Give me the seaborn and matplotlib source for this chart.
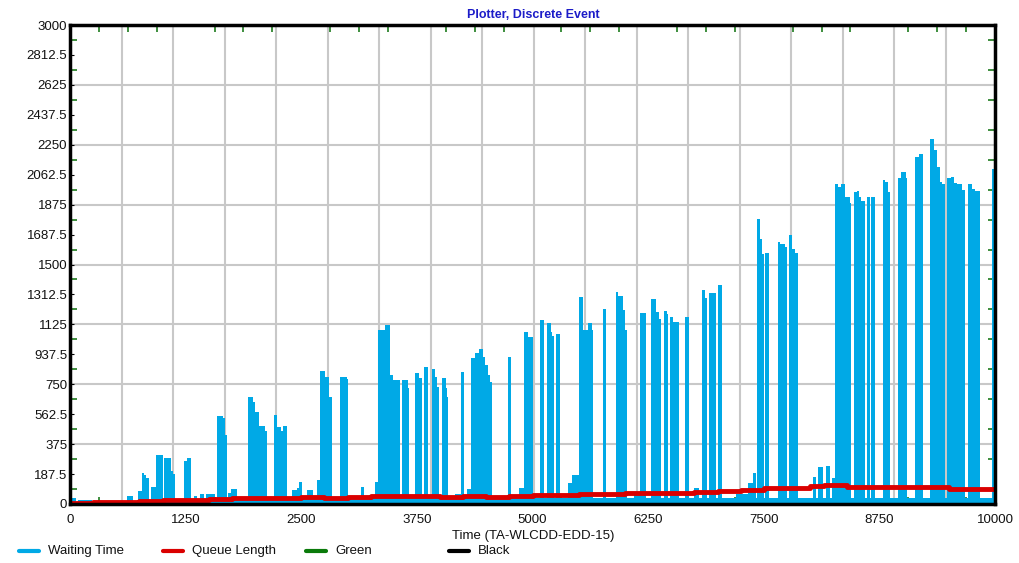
import numpy as np
import matplotlib
matplotlib.use('Agg')
import matplotlib.pyplot as plt
from matplotlib.lines import Line2D
import seaborn as sns
import pandas as pd

sns.set_style('white')
plt.rcParams['font.family'] = ['Liberation Sans', 'DejaVu Sans']

wait_t = [0, 60, 90, 240, 320, 400, 490, 560, 620, 680, 735, 780, 805, 825, 850, 875, 930, 1000,
          1015, 1090, 1110, 1135, 1230, 1260, 1310, 1340, 1370, 1400, 1450, 1470, 1570, 1590, 1650,
          1680, 1700, 1710, 1740, 1800, 1925, 1980, 2000, 2040, 2110, 2135, 2200, 2240, 2280, 2300,
          2350, 2400, 2450, 2480, 2510, 2560, 2630, 2670, 2700, 2760, 2800, 2830, 2920, 2990, 3010,
          3100, 3150, 3180, 3300, 3330, 3400, 3455, 3490, 3565, 3590, 3650, 3665, 3730, 3770, 3800,
          3830, 3875, 3910, 3945, 3965, 3985, 4020, 4060, 4075, 4090, 4160, 4230, 4255, 4290, 4335,
          4380, 4420, 4460, 4490, 4520, 4545, 4565, 4620, 4740, 4770, 4850, 4910, 4950, 5010, 5080,
          5120, 5160, 5200, 5215, 5235, 5250, 5300, 5380, 5430, 5500, 5545, 5595, 5640, 5655, 5760,
          5790, 5900, 5925, 5980, 6000, 6020, 6100, 6160, 6230, 6280, 6340, 6365, 6385, 6420, 6450,
          6465, 6490, 6520, 6580, 6650, 6690, 6750, 6800, 6830, 6870, 6885, 6910, 6980, 7000, 7050,
          7200, 7330, 7380, 7420, 7430, 7460, 7480, 7500, 7510, 7560, 7650, 7680, 7730, 7750, 7770,
          7810, 7840, 7870, 8030, 8070, 8090, 8140, 8170, 8215, 8240, 8275, 8300, 8340, 8380, 8430,
          8445, 8475, 8505, 8530, 8555, 8590, 8615, 8650, 8660, 8700, 8785, 8815, 8845, 8870, 8950,
          8985, 9035, 9050, 9140, 9180, 9220, 9300, 9340, 9370, 9400, 9430, 9455, 9480, 9525, 9555,
          9590, 9640, 9680, 9710, 9750, 9780, 9840, 9965, 10000]
wait_v = [40, 10, 25, 15, 15, 5, 15, 5, 50, 20, 80, 195, 180, 160, 20, 107, 307, 30,
          288, 205, 185, 30, 270, 290, 30, 50, 20, 65, 20, 65, 30, 550, 540,
          430, 40, 70, 92, 35, 670, 640, 575, 490, 460, 30, 557, 483, 460, 490,
          35, 90, 100, 140, 40, 87, 40, 150, 833, 797, 672, 40, 797, 780, 40,
          30, 108, 40, 140, 1090, 1121, 808, 777, 40, 777, 724, 40, 818, 787, 40,
          857, 40, 845, 797, 735, 40, 787, 724, 672, 40, 60, 829, 40, 97, 912,
          943, 968, 922, 870, 808, 766, 40, 50, 922, 40, 100, 1077, 1046, 40, 1152,
          40, 1133, 1075, 1050, 40, 1065, 40, 130, 182, 1294, 1090, 1131, 1090, 40, 1221,
          40, 1330, 1300, 1215, 1090, 40, 60, 1195, 40, 1284, 1205, 1156, 40, 1209, 1193,
          40, 1172, 1140, 40, 1172, 40, 100, 40, 1340, 1288, 40, 1324, 40, 1371, 40,
          60, 130, 196, 40, 1783, 1658, 1566, 40, 1570, 40, 1639, 1628, 1607, 40, 1685,
          1600, 1570, 40, 168, 40, 230, 40, 240, 40, 160, 2002, 1983, 2002, 1925, 1888,
          40, 1957, 1963, 1921, 1898, 40, 1925, 40, 1925, 40, 2029, 2017, 1957, 40, 2040,
          2077, 2040, 40, 2171, 2192, 40, 2286, 2217, 2113, 2019, 2002, 40, 2040, 2046, 2008,
          2002, 1967, 40, 2002, 1971, 1963, 40, 2098, 2098]

## Queue length
queue_t = [0, 250, 500, 750, 1000, 1250, 1500, 1750, 2000, 2250, 2500, 2750, 3000, 3250, 3500,
           3750, 4000, 4250, 4500, 4750, 5000, 5250, 5500, 5750, 6000, 6250, 6500, 6750, 7000,
           7250, 7500, 7750, 8000, 8150, 8400, 8750, 9000, 9250, 9500, 9750, 10000]
queue_v = [5, 10, 15, 18, 22, 25, 30, 35, 38, 40, 42, 40, 45, 52, 50, 48, 45, 48, 45, 50,
           55, 57, 60, 65, 68, 70, 72, 78, 82, 90, 98, 100, 112, 122, 108, 104, 106, 108, 95,
           92, 92]

x_labels = ['0', '1250', '2500', '3750', '5000', '6250', '7500', '8750', '10000']
legend_names = ['Waiting Time', 'Queue Length', 'Green', 'Black']
legend_colors = ['#00A9E6', '#DA0000', '#0A7A0A', '#000000']

W, H = 1019, 563
fig = plt.figure(figsize=(W / 100, H / 100), dpi=100)
ax = fig.add_axes([70 / W, 1 - 504 / H, 925 / W, 479 / H])

# grid
for gx in np.arange(557, 10000, 557):
    ax.axvline(gx, color='#C8C8C8', lw=1.5, zorder=0)
for gy in np.arange(375, 3000, 375):
    ax.axhline(gy, color='#C8C8C8', lw=1.5, zorder=0)

ax.fill_between(wait_t, wait_v, step='post', color=legend_colors[0], lw=0, zorder=2)
qdf = pd.DataFrame({'t': queue_t, 'q': queue_v})
sns.lineplot(data=qdf, x='t', y='q', ax=ax, color=legend_colors[1], lw=3.5,
             drawstyle='steps-post', estimator=None, zorder=3)

ax.set_xlim(0, 10000)
ax.set_ylim(0, 3000)
ax.set_xlabel('')
ax.set_ylabel('')
ax.set_xticks(np.arange(0, 10001, 1250))
ax.set_xticklabels(x_labels)
ax.set_xticks(np.arange(0, 10001, 312.5), minor=True)
yt = np.arange(0, 3001, 187.5)
ax.set_yticks(yt)
ax.set_yticklabels([f'{v:g}' for v in yt])
ax.set_yticks(np.arange(93.75, 3000, 187.5), minor=True)
ax.tick_params(axis='both', which='major', direction='in', length=3, color='black',
               labelsize=9.5, labelcolor='#111111', left=True, bottom=True)
ax.tick_params(axis='x', which='major', pad=7)
ax.tick_params(axis='y', which='major', pad=2)
ax.tick_params(axis='both', which='minor', direction='in', length=5, color='#1E7B1E',
               top=True, right=True, left=True, bottom=True, width=1.2)
for s in ax.spines.values():
    s.set_color('black')
    s.set_linewidth(2.5)
    s.set_zorder(5)

fig.text(533 / W, 1 - 15 / H, 'Plotter, Discrete Event', ha='center', va='center',
         color='#1C1CC8', fontsize=9, fontweight='bold')
fig.text(533 / W, 1 - 536 / H, 'Time (TA-WLCDD-EDD-15)', ha='center', va='center',
         fontsize=9.5, color='#111111')

# legend row
leg_x = [19, 163, 306, 449]
for lx, name, c in zip(leg_x, legend_names, legend_colors):
    fig.add_artist(Line2D([lx / W, (lx + 20) / W], [1 - 551 / H] * 2, color=c, lw=3))
    fig.text((lx + 29) / W, 1 - 551 / H, name, ha='left', va='center', fontsize=9.5,
             color='#111111')

plt.savefig('out.png', dpi=100)
